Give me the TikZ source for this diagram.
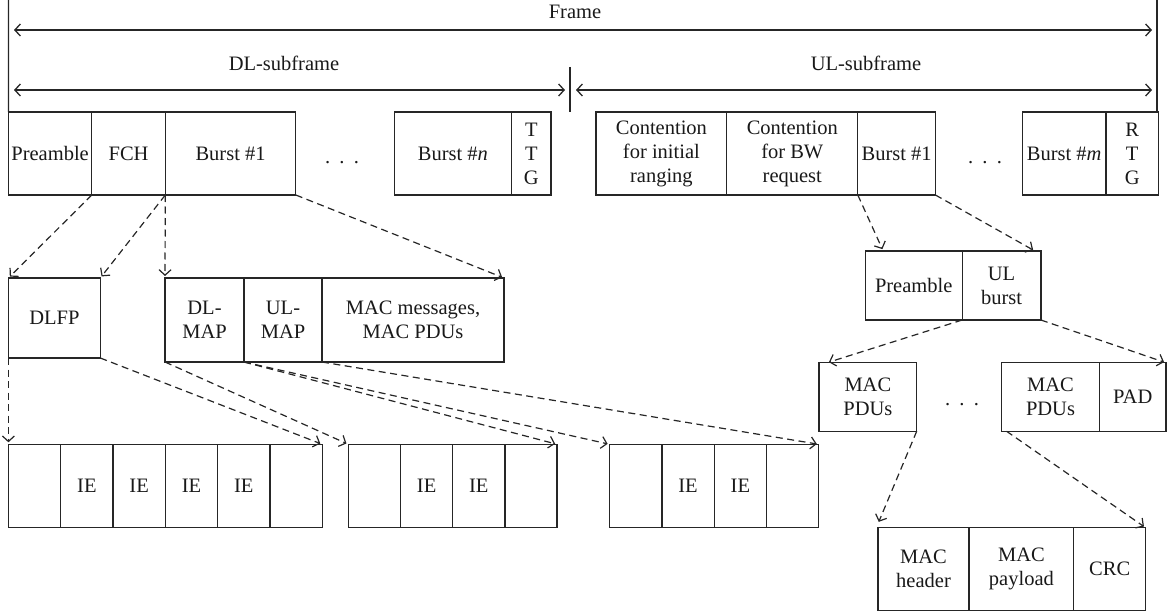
\documentclass[tikz,border=0pt]{standalone}
\usepackage{fontspec}
\setmainfont{Liberation Serif}
\usetikzlibrary{arrows.meta,calc}
\begin{document}
\begin{tikzpicture}[x=1pt,y=-1pt,
  font=\fontsize{20.5}{24}\selectfont,
  line width=1.3pt, draw=black!85, text=black!90,
  box/.style 2 args={draw, rectangle, inner sep=0pt, outer sep=0pt, align=center,
    minimum width=#1pt, minimum height=#2pt},
  lbl/.style={inner sep=0pt, anchor=base},
  dim/.style={line width=1.3pt, {Straight Barb[length=5.5pt,width=12pt]}-{Straight Barb[length=5.5pt,width=12pt]}},
  link/.style={line width=1.2pt, dash pattern=on 7pt off 4.5pt, -{Straight Barb[length=5.5pt,width=12pt]}, shorten >=2pt}]
\useasboundingbox (0,0) rectangle (1168,615);

% ---------- top row ----------
\node[box={83.4}{83}] (pre) at (50.1,153.5) {Preamble};
\node[box={73.5}{83}] (fch) at (128.55,153.5) {FCH};
\node[box={130.5}{83}] (db1) at (230.55,153.5) {Burst \#1};
\node[lbl] (ddots) at (342,164) {.\hspace{0.45em}.\hspace{0.45em}.};
\node[box={117.5}{83}] (dbn) at (452.95,153.5) {Burst \#\textit{n}};
\node[box={39.3}{83}] (ttg) at (531.35,153.5) {T\\T\\G};
\node[box={130.8}{83}] (uci) at (661.4,153.5) {Contention\\for initial\\ranging};
\node[box={131}{83}] (ucb) at (792.3,153.5) {Contention\\for BW\\request};
\node[box={77.6}{83}] (ub1) at (896.6,153.5) {Burst \#1};
\node[lbl] (udots) at (985,164) {.\hspace{0.45em}.\hspace{0.45em}.};
\node[box={83.7}{83}] (ubm) at (1064.15,153.5) {Burst \#\textit{m}};
\node[box={52.3}{83}] (rtg) at (1132.15,153.5) {R\\T\\G};

% ---------- dimension lines ----------
\coordinate (ltop) at (8.4,0);
\coordinate (rtop) at (1157,0);
\coordinate (rbot) at (1157,112);
\coordinate (dtop) at (570,67);
\coordinate (dbot) at (570,112);
\draw (ltop) -- (pre.north west);
\draw (rtop) -- (rbot);
\draw (dtop) -- (dbot);
\coordinate (fl) at (14,30);
\coordinate (fr) at (1152,30);
\coordinate (dl) at (14,90);
\coordinate (dr) at (565,90);
\coordinate (ul) at (576,90);
\coordinate (ur) at (1152,90);
\draw[dim] (fl) -- (fr);
\draw[dim] (dl) -- (dr);
\draw[dim] (ul) -- (ur);
\node[lbl] (frame) at (575,19) {Frame};
\node[lbl] (dlsub) at (284,71) {DL-subframe};
\node[lbl] (ulsub) at (866,71) {UL-subframe};

% ---------- second row ----------
\node[box={91.9}{80}] (dlfp) at (54.35,318) {DLFP};
\node[box={79}{84}] (dlmap) at (204.5,320) {DL-\\MAP};
\node[box={78}{84}] (ulmap) at (283,320) {UL-\\MAP};
\node[box={182}{84}] (macm) at (413,320) {MAC messages,\\MAC PDUs};
\node[box={97}{69}] (upre) at (913.7,285.5) {Preamble};
\node[box={78.7}{69}] (ulb) at (1001.55,285.5) {UL\\burst};

% ---------- third row (right) ----------
\node[box={97.7}{68.5}] (mp1) at (867.85,397) {MAC\\PDUs};
\node[lbl] (rdots) at (962,405) {.\hspace{0.45em}.\hspace{0.45em}.};
\node[box={98}{68.5}] (mp2) at (1050.5,397) {MAC\\PDUs};
\node[box={66.5}{68.5}] (pad) at (1132.75,397) {PAD};

% ---------- IE rows ----------
\foreach \i/\t in {1/,2/IE,3/IE,4/IE,5/IE,6/}
  \node[box={52.3}{83.4}] (ga\i) at ({34.55+52.3*(\i-1)},486) {\t};
\foreach \i/\t in {1/,2/IE,3/IE,4/}
  \node[box={52.2}{83.4}] (gb\i) at ({374.4+52.2*(\i-1)},486) {\t};
\foreach \i/\t in {1/,2/IE,3/IE,4/}
  \node[box={52.3}{83.4}] (gc\i) at ({635.75+52.3*(\i-1)},486) {\t};

% ---------- MAC PDU detail ----------
\node[box={91}{83}] (mh) at (923.5,569.2) {MAC\\header};
\node[box={104.8}{83}] (mpl) at (1021.4,569.2) {MAC\\payload};
\node[box={71.8}{83}] (crc) at (1109.7,569.2) {CRC};

% ---------- links ----------
\draw[link] (pre.south east) -- (dlfp.north west);
\draw[link] (db1.south west) -- (dlfp.north east);
\draw[link] (db1.south west) -- (dlmap.north west);
\draw[link] (db1.south east) -- (macm.north east);
\draw[link] (dlfp.south west) -- (ga1.north west);
\draw[link] (dlfp.south east) -- (ga6.north east);
\draw[link] (dlmap.south west) -- (gb1.north west);
\draw[link] (ulmap.south west) -- (gb4.north east);
\draw[link] (ulmap.south west) -- (gc1.north west);
\draw[link] (macm.south west) -- (gc4.north east);
\draw[link] (ub1.south west) -- ([xshift=18pt]upre.north west);
\draw[link] (ub1.south east) -- ([xshift=-6pt]ulb.north east);
\draw[link] (ulb.south west) -- ([xshift=8pt]mp1.north west);
\draw[link] (ulb.south east) -- (pad.north east);
\draw[link] (mp1.south east) -- ([yshift=4pt]mh.north west);
\draw[link] ([xshift=5pt]mp2.south west) -- (crc.north east);
\end{tikzpicture}
\end{document}
